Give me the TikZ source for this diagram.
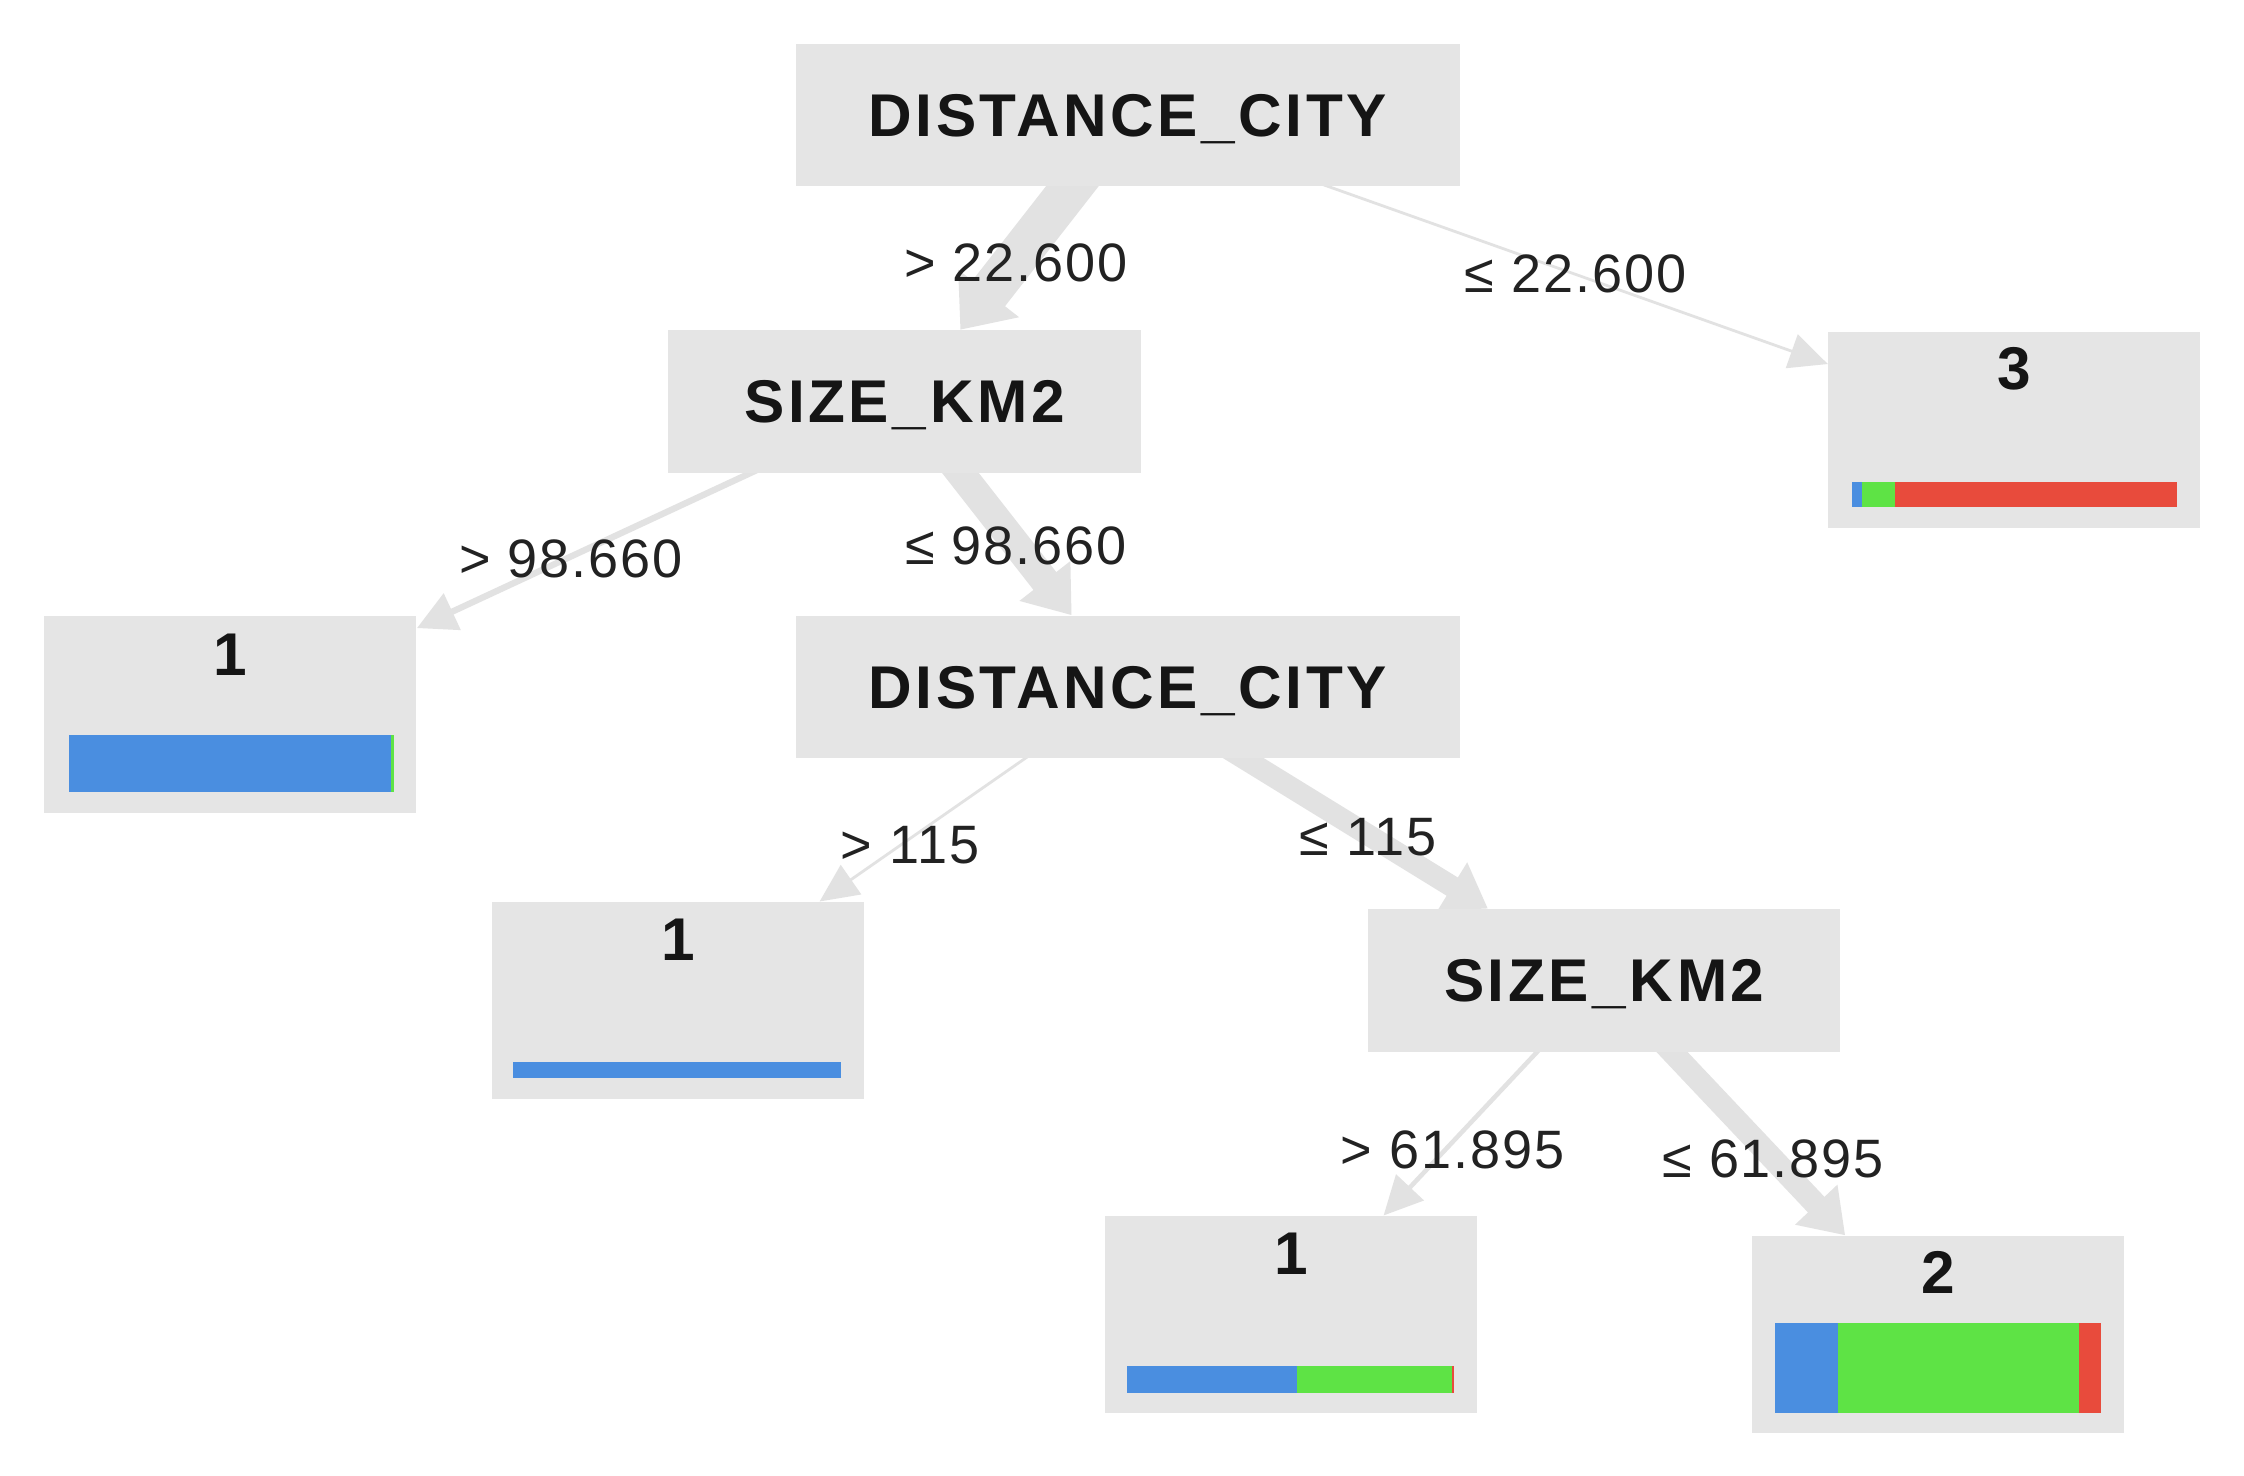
\documentclass[tikz,border=0pt]{standalone}
\usepackage{fontspec}
\setmainfont{Liberation Sans}
\newfontfamily\namefont[LetterSpace=6]{Liberation Sans}
\newfontfamily\labfont[LetterSpace=3.5]{Liberation Sans}
\usetikzlibrary{arrows.meta,backgrounds}
\definecolor{boxc}{HTML}{E5E5E5}
\definecolor{edgec}{HTML}{E2E2E2}
\definecolor{txtc}{HTML}{151515}
\definecolor{labc}{HTML}{222222}
\definecolor{bluec}{HTML}{4A8EE0}
\definecolor{greenc}{HTML}{5EE345}
\definecolor{redc}{HTML}{E84B3C}
\begin{document}
\begin{tikzpicture}[x=0.02cm,y=-0.02cm,
  inner/.style={rectangle, fill=boxc, minimum width=#1, minimum height=1.99cm, inner sep=0pt,
    font={\namefont\bfseries\fontsize{24}{24}\selectfont}, text=txtc, text height=17pt, text depth=0pt},
  leaf/.style={rectangle, fill=boxc, minimum width=5.2cm, minimum height=2.75cm, inner sep=0pt},
  num/.style={inner sep=0pt, font={\namefont\bfseries\fontsize{24}{24}\selectfont}, text=txtc},
  lab/.style={inner sep=0pt, font={\labfont\fontsize{21.5}{21.5}\selectfont}, text=labc, text height=15.4pt, text depth=0pt},
  tedge/.style={draw=edgec, line width=#1, -{Triangle[length=15pt 0.2, width=13pt 1]}}
]
\useasboundingbox (0,0) rectangle (1568,1031);
% internal nodes
\node[inner=9.28cm] (root) at (788,80.5) {DISTANCE\_CITY};
\node[inner=6.6cm] (size1) at (632,280.5) {SIZE\_KM2};
\node[inner=9.28cm] (dist2) at (788,480) {DISTANCE\_CITY};
\node[inner=6.6cm] (size2) at (1121,685) {SIZE\_KM2};
% leaves
\node[leaf] (leafA) at (161,499.3) {};
\node[leaf] (leafB) at (473.7,699) {};
\node[leaf] (leafC) at (902,918.4) {};
\node[leaf] (leafD) at (1407.5,300.4) {};
\node[leaf] (leafE) at (1354.5,932.3) {};
\node[num] (nA) at ([yshift=-0.54cm]leafA.north) {1};
\node[num] (nB) at ([yshift=-0.54cm]leafB.north) {1};
\node[num] (nC) at ([yshift=-0.53cm]leafC.north) {1};
\node[num] (nD) at ([yshift=-0.53cm]leafD.north) {3};
\node[num] (nE) at ([yshift=-0.52cm]leafE.north) {2};
% bars
\fill[bluec] (48,513.6) rectangle (273,553.5);
\fill[greenc] (273,513.6) rectangle (275,553.5);
\fill[bluec] (358.7,742) rectangle (587.5,753);
\fill[bluec] (787.8,954.4) rectangle (906.2,973);
\fill[greenc] (906.2,954.4) rectangle (1014.5,973);
\fill[redc] (1014.5,954.4) rectangle (1016,973);
\fill[bluec] (1294,337) rectangle (1301,354);
\fill[greenc] (1301,337) rectangle (1324,354);
\fill[redc] (1324,337) rectangle (1521.5,354);
\fill[bluec] (1240.4,924.3) rectangle (1284,987);
\fill[greenc] (1284,924.3) rectangle (1452.4,987);
\fill[redc] (1452.4,924.3) rectangle (1468,987);
% edge labels
\node[lab] (l1) at (710,183) {> 22.600};
\node[lab] (l2) at (1101,191) {≤ 22.600};
\node[lab] (l3) at (399,390) {> 98.660};
\node[lab] (l4) at (710,381) {≤ 98.660};
\node[lab] (l5) at (636,590) {> 115};
\node[lab] (l6) at (956,584) {≤ 115};
\node[lab] (l7) at (1015,803) {> 61.895};
\node[lab] (l8) at (1239,809) {≤ 61.895};
% edges
\begin{pgfonlayer}{background}
\fill[white] (0,0) rectangle (1568,1031);
\draw[tedge=16.5pt] (root.center) -- (size1);
\draw[tedge=1.1pt] (root.center) -- (leafD);
\draw[tedge=2.5pt] (size1.center) -- (leafA);
\draw[tedge=11.5pt] (size1.center) -- (dist2);
\draw[tedge=1.1pt] (dist2.center) -- (leafB);
\draw[tedge=8.5pt] (dist2.center) -- (size2);
\draw[tedge=1.8pt] (size2.center) -- (leafC);
\draw[tedge=9pt] (size2.center) -- (leafE);
\end{pgfonlayer}
\end{tikzpicture}
\end{document}
